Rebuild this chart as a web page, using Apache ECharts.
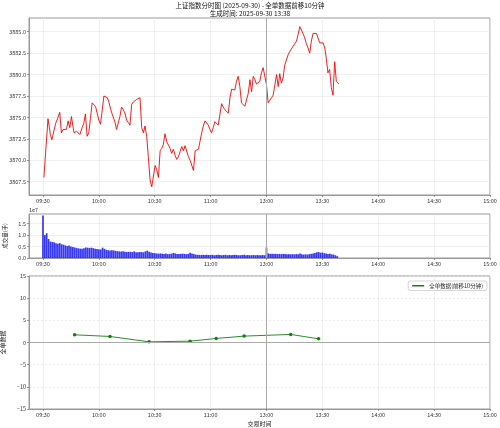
<!DOCTYPE html>
<html><head><meta charset="utf-8">
<script src="https://cdn.jsdelivr.net/npm/echarts@6/dist/echarts.min.js"></script>
<style>html,body{margin:0;padding:0;background:#fff}#c{width:500px;height:428px}</style>
</head><body><div id="c"></div>
<script>
const titleMain = '上证指数分时图 (2025-09-30) - 全单数据前移10分钟';
const titleSub = '生成时间: 2025-09-30 13:38';
const xTickMinutes = [0, 30, 60, 90, 120, 150, 180, 210, 240];
const xTickLabels = ['09:30', '10:00', '10:30', '11:00', '13:00', '13:30', '14:00', '14:30', '15:00'];
const priceTicks = [3867.5, 3870.0, 3872.5, 3875.0, 3877.5, 3880.0, 3882.5, 3885.0];
const volumeTicks = [0, 0.5, 1.0, 1.5];
const flowTicks = [-15, -10, -5, 0, 5, 10, 15];

// minute offset from 09:30 (lunch break removed) and index price
const priceMinutes = [0.5,2.7,4.0,4.8,5.7,6.8,7.9,9.0,9.9,10.8,11.7,12.6,13.5,14.4,15.3,16.2,16.7,18.0,18.9,19.8,21.0,21.9,22.8,23.7,24.6,25.5,26.4,27.3,28.2,29.1,30.0,30.9,31.8,32.7,33.6,34.6,35.5,36.4,37.3,38.6,39.5,40.4,41.3,42.2,43.1,44.0,44.9,45.8,46.7,47.6,48.5,49.4,50.3,51.2,52.1,53.0,53.9,54.8,55.7,56.6,57.5,58.4,59.3,60.2,61.1,62.0,62.9,63.8,64.6,65.5,66.4,67.3,68.2,69.1,70.0,70.9,71.8,72.7,73.6,74.5,75.4,76.3,77.2,78.1,79.0,79.9,80.8,81.7,82.6,83.5,84.3,85.2,86.1,87.0,87.9,88.8,89.6,90.5,91.4,92.3,93.2,94.1,95.0,95.9,96.8,97.7,98.6,99.5,100.4,101.3,102.1,103.0,103.9,104.8,105.7,106.6,107.5,108.4,109.3,110.2,111.1,112.0,112.9,113.8,114.6,115.5,116.4,117.3,118.2,119.1,120.0,120.9,121.8,122.7,123.6,124.5,125.4,126.3,127.1,128.0,128.9,129.8,130.7,131.6,132.5,133.4,134.3,135.2,136.1,137.0,137.9,138.8,139.6,140.5,141.4,142.3,143.2,144.1,145.0,145.9,146.8,147.7,148.6,149.5,150.4,151.3,152.1,153.0,153.9,154.8,155.7,156.6,157.5,158.4,158.9];
const priceValues = [3868.0,3874.85,3873.0,3872.4,3872.4,3874.3,3874.9,3875.6,3873.2,3873.6,3873.8,3873.6,3874.6,3873.8,3875.1,3873.8,3873.2,3873.4,3873.2,3873.0,3873.8,3874.3,3875.4,3872.8,3873.2,3874.9,3876.7,3876.8,3876.3,3875.5,3874.7,3874.2,3874.2,3877.5,3877.3,3877.3,3876.7,3875.9,3875.3,3874.5,3873.6,3873.6,3875.1,3876.2,3875.9,3875.5,3874.7,3874.4,3874.1,3876.5,3876.8,3876.9,3877.1,3877.3,3877.3,3873.8,3873.2,3874.0,3872.8,3870.3,3867.7,3866.9,3866.9,3869.4,3868.9,3868.0,3871.1,3871.4,3871.8,3873.1,3872.2,3872.0,3871.4,3870.8,3871.3,3870.6,3870.1,3870.4,3871.0,3871.6,3871.1,3871.7,3871.6,3870.4,3870.0,3869.9,3868.8,3871.1,3871.2,3871.3,3872.2,3873.2,3874.0,3874.6,3874.7,3874.1,3873.6,3873.2,3873.8,3874.5,3874.3,3874.1,3874.1,3876.6,3876.2,3875.9,3875.7,3875.5,3877.3,3878.3,3878.3,3878.2,3879.2,3879.8,3878.6,3876.7,3876.6,3876.3,3876.1,3877.8,3879.4,3878.0,3879.8,3879.4,3878.9,3878.9,3879.2,3880.2,3880.8,3880.95,3878.8,3876.7,3876.9,3877.3,3877.6,3878.8,3880.0,3878.6,3880.1,3879.0,3879.6,3881.1,3881.3,3882.3,3882.7,3882.7,3883.3,3883.1,3883.9,3884.7,3885.6,3885.4,3884.8,3884.3,3883.6,3883.1,3882.5,3883.9,3884.8,3885.0,3884.8,3885.0,3883.7,3883.5,3883.7,3883.1,3881.9,3880.2,3880.6,3878.5,3877.6,3881.5,3879.2,3879.0,3878.9];

// volume per minute (units of 1e7 lots), starting at 09:30
const volumes = [1.85,1.00,1.08,0.83,0.72,0.70,0.69,0.64,0.62,0.65,0.60,0.58,0.55,0.52,0.55,0.50,0.48,0.46,0.44,0.42,0.41,0.40,0.43,0.46,0.45,0.44,0.45,0.43,0.40,0.39,0.38,0.37,0.45,0.40,0.36,0.34,0.33,0.34,0.33,0.31,0.30,0.29,0.28,0.29,0.27,0.26,0.27,0.27,0.26,0.29,0.25,0.25,0.26,0.26,0.25,0.29,0.32,0.27,0.24,0.22,0.21,0.20,0.19,0.20,0.19,0.18,0.20,0.17,0.18,0.19,0.22,0.20,0.18,0.17,0.18,0.19,0.18,0.17,0.18,0.23,0.20,0.17,0.15,0.14,0.14,0.13,0.14,0.13,0.14,0.13,0.13,0.14,0.12,0.13,0.14,0.13,0.12,0.13,0.14,0.12,0.13,0.12,0.13,0.14,0.13,0.12,0.12,0.13,0.14,0.12,0.13,0.12,0.12,0.13,0.12,0.13,0.12,0.12,0.13,0.12,0.46,0.20,0.18,0.19,0.18,0.18,0.17,0.18,0.17,0.18,0.17,0.16,0.17,0.16,0.17,0.16,0.17,0.16,0.20,0.16,0.15,0.16,0.15,0.17,0.18,0.20,0.22,0.25,0.26,0.23,0.24,0.21,0.20,0.18,0.19,0.16,0.15,0.12,0.08];

const flowMinutes = [17, 36, 57, 79, 93, 108, 133, 148];
const flowValues = [1.74, 1.36, 0.15, 0.30, 0.91, 1.44, 1.82, 0.83];

const FONT = 'Noto Sans CJK SC';
function fmtTime(m) {
  const i = xTickMinutes.indexOf(m);
  return i >= 0 ? xTickLabels[i] : '';
}
const grids = [
  {left: 29, right: 10, top: 18, height: 177},
  {left: 29, right: 10, top: 214, height: 44},
  {left: 29, right: 10, top: 276, height: 133}
].map(g => Object.assign(g, {show: true, borderColor: '#999', borderWidth: 1, backgroundColor: 'transparent', containLabel: false, outerBoundsMode: 'none'}));

function xAxis(gi, name) {
  return {
    type: 'value', gridIndex: gi, min: -7.5, max: 240,
    name: name || '', nameLocation: 'middle', nameGap: 12,
    nameTextStyle: {fontSize: 6, fontFamily: FONT, color: '#222'},
    axisLine: {show: true, onZero: false, lineStyle: {color: '#999'}},
    axisTick: {show: true, length: 2, customValues: xTickMinutes, lineStyle: {color: '#555', width: 0.6}},
    axisLabel: {customValues: xTickMinutes, formatter: fmtTime, fontSize: 5.5, fontFamily: FONT, color: '#333', margin: 3},
    splitLine: {show: true, lineStyle: {color: '#e8e8e8', width: 0.7}}
  };
}
function yAxisBase(extra) {
  return Object.assign({
    type: 'value', nameLocation: 'middle', nameRotate: 90,
    axisLine: {show: true, onZero: false, lineStyle: {color: '#999'}}
  }, extra);
}

const option = {
  animation: false,
  backgroundColor: '#fff',
  title: [
    {text: titleMain, left: 'center', top: 2, padding: 0, textStyle: {fontSize: 6.5, fontWeight: 'normal', fontFamily: FONT, color: '#111'}},
    {text: titleSub, left: 'center', top: 10, padding: 0, textStyle: {fontSize: 6.5, fontWeight: 'normal', fontFamily: FONT, color: '#111'}}
  ],
  grid: grids,
  legend: {
    data: ['全单数据(前移10分钟)'], right: 13, top: 281, orient: 'horizontal',
    icon: 'rect', itemWidth: 12, itemHeight: 1.5, itemGap: 4,
    textStyle: {fontSize: 5.5, fontFamily: FONT, color: '#222'},
    backgroundColor: '#fff', borderColor: '#ccc', borderWidth: 0.8, borderRadius: 2, padding: [2, 4, 2, 4]
  },
  graphic: [
    {type: 'text', left: 29, top: 207, style: {text: '1e7', fontSize: 5.5, fontFamily: FONT, fill: '#333'}}
  ],
  xAxis: [xAxis(0), xAxis(1), xAxis(2, '交易时间')],
  yAxis: [
    yAxisBase({gridIndex: 0, min: 3865.95, max: 3886.6, name: '指数点位', nameGap: 21,
     nameTextStyle: {fontSize: 6, fontFamily: FONT, color: '#222'},
     axisTick: {show: true, length: 2, customValues: priceTicks, lineStyle: {color: '#555', width: 0.6}},
     axisLabel: {customValues: priceTicks, formatter: v => v.toFixed(1), fontSize: 5.5, fontFamily: FONT, color: '#333', margin: 3},
     splitLine: {show: true, lineStyle: {color: '#e8e8e8', width: 0.7}}}),
    yAxisBase({gridIndex: 1, min: 0, max: 1.92, name: '成交量(手)', nameGap: 16,
     nameTextStyle: {fontSize: 5.5, fontFamily: FONT, color: '#222'},
     axisTick: {show: true, length: 2, customValues: volumeTicks, lineStyle: {color: '#555', width: 0.6}},
     axisLabel: {customValues: volumeTicks, formatter: v => v.toFixed(1), fontSize: 5.5, fontFamily: FONT, color: '#333', margin: 3},
     splitLine: {show: true, lineStyle: {color: '#e8e8e8', width: 0.7}}}),
    yAxisBase({gridIndex: 2, min: -15, max: 15, interval: 5, name: '全单数据', nameGap: 16,
     nameTextStyle: {fontSize: 6, fontFamily: FONT, color: '#222'},
     axisTick: {show: true, length: 2, lineStyle: {color: '#555', width: 0.6}},
     axisLabel: {formatter: v => (v < 0 ? '\u2212' + (-v) : '' + v), fontSize: 5.5, fontFamily: FONT, color: '#333', margin: 3},
     splitLine: {show: true, lineStyle: {color: '#e4e4e4', width: 0.7, type: [2, 2]}}})
  ],
  series: [
    {type: 'line', name: '上证指数', xAxisIndex: 0, yAxisIndex: 0, showSymbol: false, smooth: false,
     data: priceMinutes.map((m, i) => [m, priceValues[i]]),
     lineStyle: {color: '#ff0000', width: 0.9}, itemStyle: {color: '#ff0000'},
     markLine: {silent: true, symbol: 'none', label: {show: false}, lineStyle: {color: '#aaa', width: 1, type: 'solid'}, data: [{xAxis: 120}]}},
    {type: 'bar', name: '成交量', xAxisIndex: 1, yAxisIndex: 1, barWidth: 1.7,
     data: volumes.map((v, i) => [i, v]),
     itemStyle: {color: 'rgba(20,20,245,0.85)'},
     markLine: {silent: true, symbol: 'none', label: {show: false}, lineStyle: {color: '#aaa', width: 1, type: 'solid'}, data: [{xAxis: 120}]}},
    {type: 'line', name: '全单数据(前移10分钟)', xAxisIndex: 2, yAxisIndex: 2, showSymbol: true, symbol: 'circle', symbolSize: 3.5,
     data: flowMinutes.map((m, i) => [m, flowValues[i]]),
     lineStyle: {color: '#2e8b2e', width: 1}, itemStyle: {color: '#1a7a1a'},
     markLine: {silent: true, symbol: 'none', label: {show: false}, lineStyle: {color: '#aaa', width: 1, type: 'solid'}, data: [{xAxis: 120}, {yAxis: 0}]}}
  ]
};
const chart = echarts.init(document.getElementById('c'), null, {renderer: 'canvas'});
chart.setOption(option);
</script></body></html>
